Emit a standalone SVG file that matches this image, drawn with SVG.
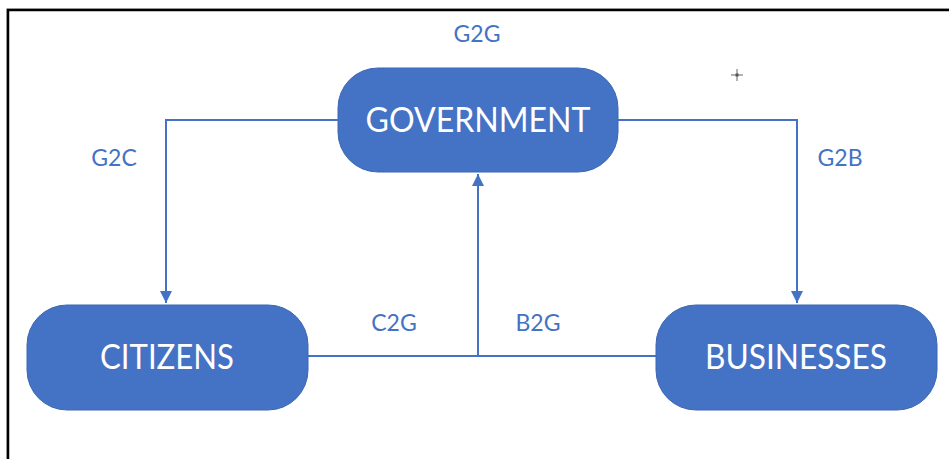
<svg xmlns="http://www.w3.org/2000/svg" width="949" height="459" viewBox="0 0 949 459">
<style>
.node{fill:#4472C4;stroke:#3b66b3;stroke-width:1}
.nt{font-family:Lato,"Open Sans","Liberation Sans",sans-serif;fill:#ffffff;font-size:35px;text-anchor:middle}
.lbl{font-family:Lato,"Open Sans","Liberation Sans",sans-serif;fill:#4472C4;font-size:23px;text-anchor:middle}
.con{fill:none;stroke:#4472C4;stroke-width:2}
</style>
<defs>
<marker id="ah" markerWidth="12" markerHeight="12" refX="10" refY="5" orient="auto" markerUnits="userSpaceOnUse" viewBox="0 0 10 10">
<path d="M0,0 L10,5 L0,10 z" fill="#4472C4"/>
</marker>
</defs>
<rect x="0" y="0" width="949" height="459" fill="#ffffff"/>
<path d="M6.5,459 V8.5 H949" fill="none" stroke="#c8c8c8" stroke-width="1"/>
<path d="M8,459 V10 H949" fill="none" stroke="#000000" stroke-width="2.5"/>
<g id="connectors">
<path class="con" d="M338,120 H166 V303" marker-end="url(#ah)"/>
<path class="con" d="M618,120 H797 V303" marker-end="url(#ah)"/>
<path class="con" d="M308,356 H656"/>
<path class="con" d="M478,356 V174" marker-end="url(#ah)"/>
</g>
<g id="government">
<rect class="node" x="338" y="68" width="280" height="104" rx="40"/>
<text class="nt" x="478" y="132" textLength="225" lengthAdjust="spacingAndGlyphs">GOVERNMENT</text>
</g>
<g id="citizens">
<rect class="node" x="27" y="305" width="281" height="105" rx="40"/>
<text class="nt" x="167" y="369" textLength="134" lengthAdjust="spacingAndGlyphs">CITIZENS</text>
</g>
<g id="businesses">
<rect class="node" x="656" y="305" width="281" height="105" rx="40"/>
<text class="nt" x="796" y="369" textLength="182" lengthAdjust="spacingAndGlyphs">BUSINESSES</text>
</g>
<g id="labels">
<text class="lbl" x="477" y="42">G2G</text>
<text class="lbl" x="114" y="166">G2C</text>
<text class="lbl" x="840" y="166">G2B</text>
<text class="lbl" x="394" y="331">C2G</text>
<text class="lbl" x="538" y="331">B2G</text>
</g>
<g id="cursor" stroke="#666666" stroke-width="1">
<path d="M737,69 V81 M731,75 H743"/>
<rect x="735.5" y="73.5" width="3" height="3" fill="#555555" stroke="none"/>
</g>
</svg>
